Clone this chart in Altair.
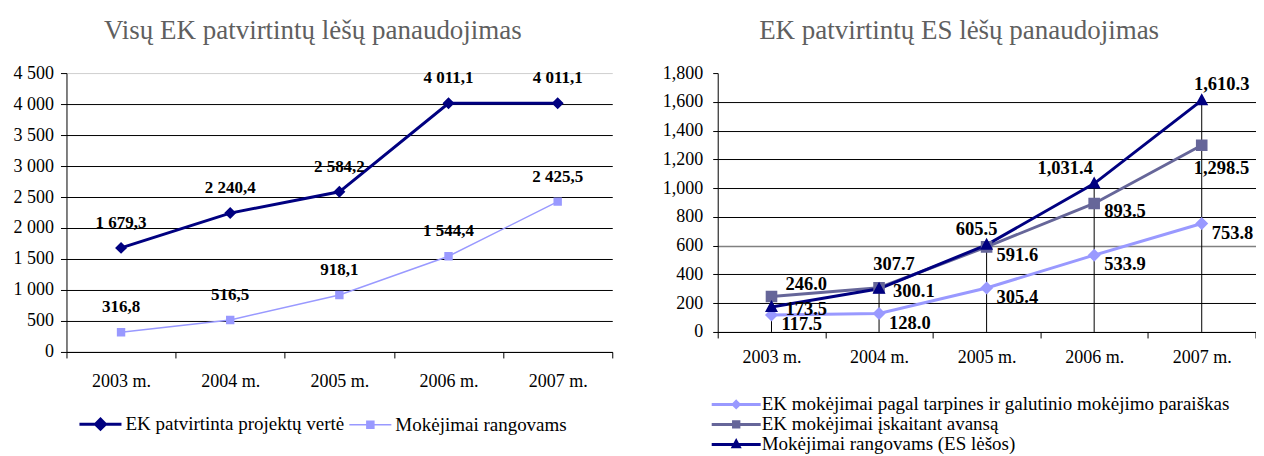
import altair as alt
import pandas as pd

# ---------------- data ----------------
years = ["2003 m.", "2004 m.", "2005 m.", "2006 m.", "2007 m."]

left_names = ["EK patvirtinta projektų vertė", "Mokėjimai rangovams"]
left_project_value = [1679.3, 2240.4, 2584.2, 4011.1, 4011.1]
left_contractor_payments = [316.8, 516.5, 918.1, 1544.4, 2425.5]
left_ticks = [0, 500, 1000, 1500, 2000, 2500, 3000, 3500, 4000, 4500]

right_names = [
    "EK mokėjimai pagal tarpines ir galutinio mokėjimo paraiškas",
    "EK mokėjimai įskaitant avansą",
    "Mokėjimai rangovams (ES lėšos)",
]
right_interim = [117.5, 128.0, 305.4, 533.9, 753.8]
right_with_advance = [246.0, 307.7, 591.6, 893.5, 1298.5]
right_contractors = [173.5, 300.1, 605.5, 1031.4, 1610.3]
right_ticks = [0, 200, 400, 600, 800, 1000, 1200, 1400, 1600, 1800]


def long_table(names, series_values):
    rows = []
    for name, vals in zip(names, series_values):
        for yr, v in zip(years, vals):
            rows.append({"year": yr, "series": name, "value": v})
    return pd.DataFrame(rows)


ldf = long_table(left_names, [left_project_value, left_contractor_payments])
rdf = long_table(right_names, [right_interim, right_with_advance, right_contractors])

# ---------------- style ----------------
FONT = "Liberation Serif"
NAVY = "#000080"
PERI = "#9999FF"
SLATE = "#666699"
TITLE_COLOR = "#5f5f5f"

L_W, L_H = 546, 279
R_W, R_H = 538, 259

# marker shapes: horizontal legend line + marker (line invisible on chart markers)
L_DIAMOND = "M-5.04,0H5.04M0,-1.2L1.2,0L0,1.2L-1.2,0Z"
L_SQUARE = "M-5.04,0H5.04M-0.84,-0.84H0.84V0.84H-0.84Z"
R_DIAMOND = "M-10.65,0H10.65M0,-1.3L1.3,0L0,1.3L-1.3,0Z"
R_SQUARE = "M-10.65,0H10.65M-1.16,-1.16H1.16V1.16H-1.16Z"
R_TRIANGLE = "M-10.65,0H10.65M0,-1.4L1.3,1L-1.3,1Z"


def x_enc(label_padding):
    return alt.X(
        "year:N",
        scale=alt.Scale(type="band", domain=years, paddingInner=0, paddingOuter=0),
        axis=alt.Axis(
            title=None, labelAngle=0, tickBand="extent", tickSize=6,
            tickColor="black", domainColor="black", labelFont=FONT,
            labelFontSize=18, labelColor="black", labelPadding=label_padding,
            grid=False,
        ),
    )


# ================= LEFT CHART =================
lx = x_enc(15)
ly = alt.Y(
    "value:Q",
    scale=alt.Scale(domain=[0, 4500], nice=False),
    axis=alt.Axis(
        title=None, values=left_ticks,
        labelExpr="replace(format(datum.value, ',.0f'), ',', ' ')",
        grid=True,
        gridColor={"condition": {"test": "datum.value === 4500", "value": "#cfcfcf"}, "value": "black"},
        gridWidth=1, tickSize=6, tickColor="black", domainColor="black",
        labelFont=FONT, labelFontSize=18, labelColor="black", labelPadding=7,
    ),
)
lcolor = alt.Scale(domain=left_names, range=[NAVY, PERI])
lshape = alt.Scale(domain=left_names, range=[L_DIAMOND, L_SQUARE])
lwidth = alt.Scale(domain=left_names, range=[3, 1.5], padding=0)

lbase = alt.Chart(ldf)
l_lines = lbase.mark_line().encode(
    x=lx, y=ly,
    color=alt.Color("series:N", scale=lcolor, legend=None),
    strokeWidth=alt.StrokeWidth("series:N", scale=lwidth, legend=None),
)
l_points = lbase.mark_point(filled=True, size=100, opacity=1, strokeWidth=0).encode(
    x=lx, y=ly,
    color=alt.Color("series:N", scale=lcolor, legend=None),
    shape=alt.Shape("series:N", scale=lshape, legend=None),
)
l_labels = lbase.transform_calculate(
    label="replace(replace(format(datum.value, ',.1f'), ',', ' '), '.', ',')"
).mark_text(
    font=FONT, fontSize=17, fontWeight="bold", color="black",
    align="center", baseline="middle", dy=-25,
).encode(x=lx, y=ly, text="label:N")

l_legend = alt.Legend(
    title=None, orient="none", legendX=24.5, legendY=341.5, direction="horizontal",
    labelFont=FONT, labelFontSize=19, labelColor="black", labelLimit=0,
    labelOffset=15.5, columnPadding=1, symbolSize=69.6,
    symbolFillColor=NAVY, symbolStrokeColor=NAVY, symbolOpacity=1, padding=0,
)
# legend carrier: draws nothing itself (no rows), only supplies the legend
l_carrier = lbase.transform_filter("datum.value < 0").mark_point(
    filled=False, size=69.6
).encode(
    x=lx, y=ly,
    color=alt.Color("series:N", scale=lcolor, legend=l_legend),
    fill=alt.Fill("series:N", scale=lcolor, legend=l_legend),
    shape=alt.Shape("series:N", scale=lshape, legend=l_legend),
    strokeWidth=alt.StrokeWidth("series:N", scale=lwidth, legend=l_legend),
)

left = alt.layer(l_carrier, l_lines, l_points, l_labels).properties(
    width=L_W, height=L_H,
    title=alt.TitleParams(
        "Visų EK patvirtintų lėšų panaudojimas", font=FONT, fontSize=27,
        fontWeight="normal", color=TITLE_COLOR, anchor="middle", frame="bounds",
        offset=19,
    ),
)

# ================= RIGHT CHART =================
rx = x_enc(11)
r_axis = alt.Axis(
    title=None, values=right_ticks,
    labelExpr="format(datum.value, ',.0f')",
    grid=True,
    gridColor={
        "condition": [
            {"test": "datum.value === 1800", "value": "transparent"},
            {"test": "datum.value === 600", "value": "#808080"},
        ],
        "value": "black",
    },
    gridWidth={"condition": {"test": "datum.value === 600", "value": 1.6}, "value": 1},
    tickSize=5, tickColor="black", domainColor="black",
    labelFont=FONT, labelFontSize=18, labelColor="black", labelPadding=10,
)
r_yscale = alt.Scale(domain=[0, 1800], nice=False)
ry = alt.Y("value:Q", scale=r_yscale, axis=r_axis)
rcolor = alt.Scale(domain=right_names, range=[PERI, SLATE, NAVY])
rshape = alt.Scale(domain=right_names, range=[R_DIAMOND, R_SQUARE, R_TRIANGLE])
rwidth = alt.Scale(domain=right_names, range=[3, 3], padding=0)

rbase = alt.Chart(rdf)
r_drops = rbase.mark_rule(color="black", strokeWidth=1).encode(
    x=rx,
    y=alt.Y("max(value):Q", scale=r_yscale, axis=r_axis),
    y2=alt.datum(0),
)
r_lines = rbase.mark_line().encode(
    x=rx, y=ry,
    color=alt.Color("series:N", scale=rcolor, legend=None),
    strokeWidth=alt.StrokeWidth("series:N", scale=rwidth, legend=None),
)
r_points = rbase.mark_point(filled=True, size=100, opacity=1, strokeWidth=0).encode(
    x=rx, y=ry,
    color=alt.Color("series:N", scale=rcolor, legend=None),
    shape=alt.Shape("series:N", scale=rshape, legend=None),
)


def r_label(series_name, year_list, align, dx, dy):
    return rbase.transform_filter(
        alt.FieldEqualPredicate(field="series", equal=series_name)
    ).transform_filter(
        alt.FieldOneOfPredicate(field="year", oneOf=year_list)
    ).transform_calculate(
        label="format(datum.value, ',.1f')"
    ).mark_text(
        font=FONT, fontSize=18.5, fontWeight="bold", color="black",
        align=align, baseline="middle", dx=dx, dy=dy,
    ).encode(x=rx, y=ry, text="label:N")


r_text = [
    r_label(right_names[0], years, "left", 10, 9),
    r_label(right_names[1], years[0:1], "left", 14, -13),
    r_label(right_names[1], years[1:2], "center", 15, -24),
    r_label(right_names[1], years[2:4], "left", 10, 8),
    r_label(right_names[1], years[4:5], "left", -8, 23),
    r_label(right_names[2], years[0:2], "left", 14, 2),
    r_label(right_names[2], years[2:3], "center", -10, -16),
    r_label(right_names[2], years[3:4], "center", -29, -16),
    r_label(right_names[2], years[4:5], "center", 20, -16),
]

r_legend = alt.Legend(
    title=None, orient="none", legendX=9, legendY=322, direction="vertical",
    labelFont=FONT, labelFontSize=19, labelColor="black", labelLimit=0,
    labelOffset=16, rowPadding=-2, symbolSize=21.2,
    symbolFillColor=NAVY, symbolStrokeColor=NAVY, symbolOpacity=1, padding=0,
)
r_carrier = rbase.transform_filter("datum.value < 0").mark_point(
    filled=False, size=21.2
).encode(
    x=rx, y=ry,
    color=alt.Color("series:N", scale=rcolor, legend=r_legend),
    fill=alt.Fill("series:N", scale=rcolor, legend=r_legend),
    shape=alt.Shape("series:N", scale=rshape, legend=r_legend),
    strokeWidth=alt.StrokeWidth("series:N", scale=rwidth, legend=r_legend),
)

right = alt.layer(r_carrier, r_drops, r_lines, r_points, *r_text).properties(
    width=R_W, height=R_H,
    title=alt.TitleParams(
        "EK patvirtintų ES lėšų panaudojimas", font=FONT, fontSize=27,
        fontWeight="normal", color=TITLE_COLOR, anchor="middle", frame="bounds",
        offset=19,
    ),
)

chart = alt.hconcat(left, right, spacing=48.5).resolve_scale(
    color="independent", fill="independent", shape="independent",
    strokeWidth="independent",
).resolve_legend(
    color="independent", fill="independent", shape="independent",
    strokeWidth="independent",
).properties(
    padding={"left": 4.5, "top": 9, "right": 0, "bottom": 0}
).configure(
    font=FONT,
).configure_view(strokeWidth=0).configure_legend(
    labelFont=FONT, labelFontSize=19, labelColor="black", labelLimit=0,
)

chart.save("out.html", embed_options={"renderer": "svg", "actions": False})
